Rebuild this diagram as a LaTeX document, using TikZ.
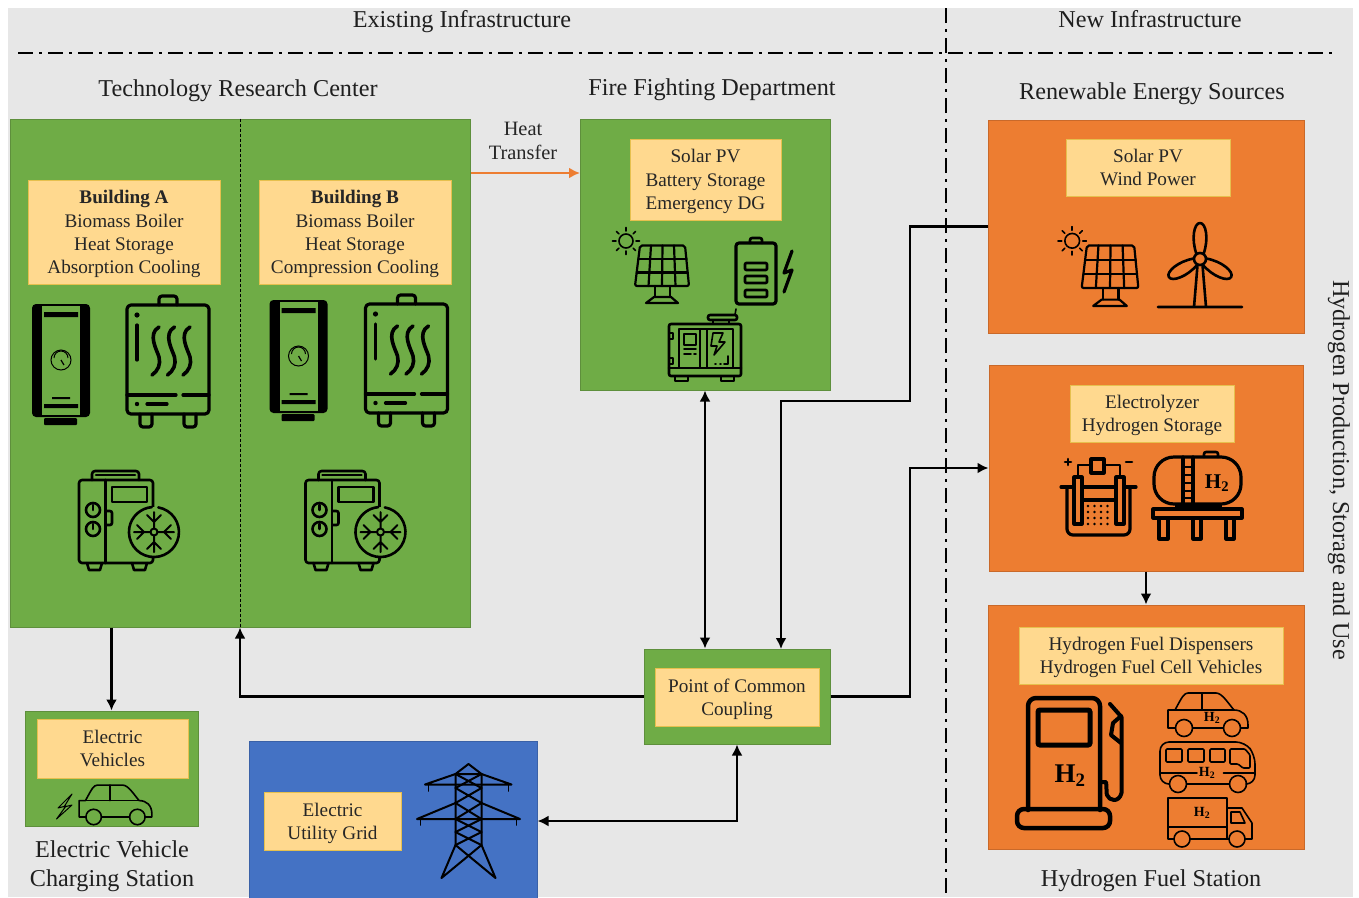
\documentclass[tikz,border=0pt]{standalone}
\usepackage{fontspec}
\setmainfont{Liberation Serif}
\usetikzlibrary{arrows.meta}
\definecolor{panelgray}{HTML}{E7E7E7}
\definecolor{sitegreen}{HTML}{6FAC46}
\definecolor{sitegreenline}{HTML}{5E8F3C}
\definecolor{siteorange}{HTML}{ED7D31}
\definecolor{siteorangeline}{HTML}{C9692A}
\definecolor{siteblue}{HTML}{4472C4}
\definecolor{labelfill}{HTML}{FFD98F}
\definecolor{labelline}{HTML}{E6C04E}
\newcommand{\Htwo}{H\textsubscript{2}}
\tikzset{
  icon/.style={line width=2.6pt, line join=round, line cap=round},
  thickicon/.style={line width=3.2pt, line join=round, line cap=round},
  thinicon/.style={line width=1.6pt, line join=round, line cap=round},
  pics/heater/.style={code={
    \fill[black, rounded corners=4pt] (-29,-56) rectangle (29,57);
    \fill[sitegreen] (-19,-54) rectangle (19,55);
    \fill[black] (-17,-48) rectangle (17,-43) (-9,37) rectangle (9,39) (-17,44) rectangle (17,48);
    \fill[black, rounded corners=1pt] (-17,58) rectangle (16,65);
    \draw[line width=1pt] (0,0) circle (10);
    \draw[line width=1pt] (-7,-2) arc[start angle=180, end angle=360, radius=7];
    \draw[line width=1.2pt] (0,0) -- (3,5);
  }},
  pics/boiler/.style={code={
    \draw[thickicon, rounded corners=4pt] (-41,-55) rectangle (41,54);
    \draw[thickicon, rounded corners=3pt] (-9,-55) -- (-9,-64) -- (9,-64) -- (9,-55);
    \draw[thickicon, rounded corners=3pt] (-28,54) -- (-28,67) -- (-16,67) -- (-16,54);
    \draw[thickicon, rounded corners=3pt] (16,54) -- (16,67) -- (28,67) -- (28,54);
    \draw[thickicon] (-41,35) -- (8,35) (15,35) -- (41,35);
    \draw[thickicon] (-31,-35) -- (-31,0) (-21,44) -- (-1,44);
    \fill (-31,-45) circle (2.6) (-31,44) circle (2.2);
    \foreach \dx in {0,15.5,31}
      \draw[thickicon, line width=3.6pt, xshift=\dx pt] (-9,-33) .. controls (-21,-26) and (-11,-10) .. (-9,-3) .. controls (-7,4) and (-10,11) .. (-16,15);
  }},
  pics/chiller/.style={code={
    \draw[icon, rounded corners=3pt] (-37,-45) rectangle (37,38);
    \draw[icon] (-10.5,-45) -- (-10.5,38);
    \draw[icon, rounded corners=3pt] (-24,-45) -- (-24,-54) -- (23,-54) -- (23,-45);
    \draw[icon] (-20,-50) -- (19,-50);
    \draw[icon] (-4,-38) rectangle (31,-23);
    \foreach \yc in {-15,4} {
      \draw[icon] (-23,\yc) circle (7);
      \draw[icon] (-23,\yc) -- (-23,\yc-5);
    }
    \draw[icon, rounded corners=2pt] (-10,-14) -- (-4,-14) -- (-4,0) -- (-10,0);
    \draw[icon] (-29,38) -- (-27,45) -- (-16,45) -- (-14,38);
    \draw[icon] (16,38) -- (18,45) -- (29,45) -- (31,38);
    \fill[sitegreen] (38,7) circle (25);
    \draw[icon] (42.3,-17.6) arc[start angle=-80, end angle=265, radius=25];
    \foreach \a in {0,90,180,270} {
      \begin{scope}[shift={(38,7)}, rotate=\a]
        \draw[icon, line width=2pt] (4,0) -- (20,0) (10,0) -- (17,-7) (10,0) -- (17,7);
      \end{scope}
    }
    \draw[icon, line width=2pt] (38,7) circle (3.5);
  }},
  pics/solar/.style={code={
    \draw[thinicon, line width=2.2pt, rounded corners=2pt] (-22,-19.5) -- (23,-19.5) -- (27,21) -- (-27,21) -- cycle;
    \draw[thinicon, line width=2.2pt] (-23.7,-6) -- (24.7,-6) (-25.3,7.5) -- (25.7,7.5);
    \draw[thinicon, line width=2.2pt] (-11,-19.5) -- (-13.5,21) (0.5,-19.5) -- (0,21) (12,-19.5) -- (13.5,21);
    \draw[thinicon, line width=2.2pt] (-7,21) -- (-7,32) (8,21) -- (8,32);
    \draw[thinicon, line width=2.2pt] (-8,32) -- (9,32) -- (16,38) -- (-16,38) -- cycle;
    \draw[thinicon] (-36,-24) circle (7);
    \foreach \a in {0,45,...,315}
      \draw[thinicon] ([shift={(\a:10)}]-36,-24) -- ([shift={(\a:13.5)}]-36,-24);
  }},
  pics/battery/.style={code={
    \draw[thickicon, rounded corners=3pt] (-20,-28) rectangle (20,33);
    \draw[icon, rounded corners=2pt] (-6,-28) -- (-6,-33) -- (6,-33) -- (6,-28);
    \foreach \yc in {-8,5,19}
      \draw[icon, rounded corners=1pt] (-11,\yc) rectangle (11,\yc+7);
    \draw[thickicon] (36,-20) -- (28,2) -- (36,-1) -- (28,21);
  }},
  pics/generator/.style={code={
    \draw[icon, rounded corners=2pt] (-36,-26) rectangle (36,26);
    \draw[icon] (-36,18) -- (36,18);
    \draw[thinicon] (-26,-21) rectangle (28,18) (-5,-21) -- (-5,18) (2,-21) -- (2,18);
    \draw[thinicon] (-21,-16) rectangle (-9,-5) (-21,-1) -- (-9,-1) (-21,4) -- (-14,4) (-11,4) -- (-9,4);
    \draw[thinicon] (8,-17) -- (18,-17) -- (14,-8) -- (20,-8) -- (9,5) -- (12,-4) -- (6,-4) -- cycle;
    \draw[thinicon] (10,14) -- (11,14) (15,14) -- (16,14) (19,14) -- (23,14) -- (23,6);
    \draw[thinicon] (-32,-17) rectangle (-36,-11) (-32,8) rectangle (-36,14);
    \draw[icon] (-30,26) rectangle (-17,31) (16,26) rectangle (29,31);
    \draw[icon, rounded corners=2pt] (3,-35) rectangle (32,-30);
    \draw[thinicon] (8,-30) -- (8,-26) (24,-30) -- (24,-26) (30,-35) -- (31,-41);
  }},
  pics/turbine/.style={code={
    \draw[icon] (-42,48) -- (42,48) (-6,48) -- (-2.5,6) (6,48) -- (2.5,6);
    \foreach \a in {0,120,240}
      \draw[icon, rotate=\a] (-3.5,-5) .. controls (-9,-20) and (-6,-36) .. (0,-36) .. controls (6,-36) and (9,-20) .. (3.5,-5);
    \draw[icon, fill=siteorange] (0,0) circle (6);
  }},
  pics/electrolyzer/.style={code={
    \draw[thickicon, rounded corners=6pt] (-31,-8) -- (-31,38) -- (32,38) -- (32,-8);
    \draw[thickicon] (-37,-10) -- (-24,-10) (-16,-10) -- (18,-10) (26,-10) -- (38,-10) (-16,3) -- (18,3);
    \draw[thickicon] (-24,-20) rectangle (-16,27) (18,-20) rectangle (26,27);
    \draw[icon] (-20,-20) -- (-20,-32) -- (-7,-32) (22,-20) -- (22,-32) -- (6,-32);
    \draw[thickicon, fill=siteorange] (-7,-38) rectangle (6,-24);
    \draw[icon] (-33,-35) -- (-27,-35) (-30,-38) -- (-30,-32) (28,-35) -- (34,-35);
    \foreach \xc in {-10,-3.5,3,9.5}
      \foreach \yc in {9,15,21,27}
        \fill (\xc,\yc) circle (1.3);
  }},
  pics/gastank/.style={code={
    \draw[thickicon, rounded corners=20pt] (-43,-38) rectangle (44,9);
    \draw[thickicon] (-14,-38) -- (-14,9) (-4,-38) -- (-4,9);
    \foreach \yc in {-28,-20,-12,-4,3}
      \draw[icon] (-14,\yc) -- (-4,\yc);
    \draw[icon, rounded corners=2pt] (7,-38) -- (7,-43) -- (21,-43) -- (21,-38);
    \draw[thickicon] (-20,10) rectangle (23,14) (-44,14) rectangle (45,23);
    \draw[thickicon] (-38,23) rectangle (-29,44) (-4,23) rectangle (4,44) (29,23) rectangle (37,44);
  }},
  pics/dispenser/.style={code={
    \draw[line width=4.5pt, line join=round, line cap=round, rounded corners=8pt] (-37,47) -- (-37,-65) -- (35,-65) -- (35,47);
    \draw[line width=5pt, rounded corners=2pt] (-27,-53) rectangle (25,-18);
    \draw[line width=4.5pt, rounded corners=7pt] (-48,46) rectangle (45,65);
    \draw[line width=4pt, line cap=round, line join=round] (35,19) -- (41,19) .. controls (42,25) and (41,30) .. (42,32) .. controls (44,38) and (54,40) .. (56.5,30) -- (56.5,-46) -- (45,-59);
    \draw[line width=4pt, line cap=round, line join=round] (56,-47) -- (48,-40) -- (46,-28) -- (56,-20);
  }},
  pics/car/.style={code={
    \draw[thinicon] (-32.5,17) -- (-40,17) -- (-40,-1) -- (-33,-1) .. controls (-26,-14) and (-24,-18) .. (-20,-18) -- (8,-18) .. controls (14,-18) and (20,-8) .. (26,-1) .. controls (34,-1) and (40,4) .. (40,14) -- (40,17) -- (32.5,17);
    \draw[thinicon] (-15.5,17) -- (15.5,17) (-33,-1) -- (26,-1) (-6,-18) -- (-6,-1);
    \draw[thinicon] (-24,17) circle (8.5) (24,17) circle (8.5);
  }},
  pics/bus/.style={code={
    \draw[thinicon, rounded corners=9pt] (-38,21) -- (-47,21) -- (-47,-21) -- (38,-21) -- (48,-8) -- (48,21) -- (40,21);
    \draw[thinicon] (-20.5,21) -- (22.5,21) (-47,10) -- (-10,10) (16.5,10) -- (48,10);
    \draw[thinicon, rounded corners=1pt] (-41,-14) rectangle (-25,-1) (-19,-14) rectangle (-3,-1) (3,-14) rectangle (18,-1);
    \draw[thinicon, rounded corners=1pt] (23,-14) -- (38,-14) -- (43,-8) -- (43,5) -- (36,5) -- (31,1) -- (23,1) -- cycle;
    \draw[thinicon] (-29,21) circle (8.5) (31,21) circle (8.5);
  }},
  pics/truck/.style={code={
    \draw[thinicon] (-36,18) -- (-42,18) -- (-42,-23) -- (17,-23) -- (17,18) (-42,6) -- (17,6) (-20,18) -- (19,18);
    \draw[thinicon] (17,-13) -- (32,-13) -- (42,2) -- (42,18) -- (35,18);
    \draw[thinicon] (21,-9) -- (30,-9) -- (35,2) -- (21,2) -- cycle;
    \draw[thinicon] (-28,18) circle (8) (27,18) circle (8);
  }},
  pics/pylon/.style={code={
    \draw[thinicon, line width=2pt] (0,-56) -- (-13,-46) -- (13,-46) -- cycle (-13,-46) -- (-13,25) (13,-46) -- (13,25);
    \draw[thinicon, line width=2pt] (-43.5,-35.5) -- (43,-35.5) (-43.5,-35.5) -- (-13,-46) (13,-46) -- (43,-35.5);
    \draw[thinicon, line width=2pt] (-51.5,-1) -- (51.5,-1) (-51.5,-1) -- (-13,-17) (13,-17) -- (51.5,-1);
    \draw[thinicon, line width=2pt] (-13,25) -- (-27,58) (13,25) -- (27,58) (-13,25) -- (27,58) (13,25) -- (-27,58);
    \foreach \ya/\yb in {-46/-32,-32/-17,-17/-1,-1/12,12/25}
      \draw[thinicon, line width=2pt] (-13,\ya) -- (13,\yb) (13,\ya) -- (-13,\yb);
    \draw[thinicon] (-40,-35.5) -- (-40,-29) (40,-35.5) -- (40,-29) (-48,-1) -- (-48,5) (48,-1) -- (48,5);
  }}
}
\begin{document}
\begin{tikzpicture}[x=1pt, y=-1pt, >={Latex[length=11pt,width=11pt]},
    site/.style={draw=sitegreenline, line width=1pt, fill=sitegreen, inner sep=0pt},
    hsite/.style={draw=siteorangeline, line width=1pt, fill=siteorange, inner sep=0pt},
    labelbox/.style={draw=labelline, line width=1pt, fill=labelfill, inner sep=0pt, align=center,
                     text=black!85, font=\fontsize{19.2}{23.2}\selectfont},
    heading/.style={align=center, text=black!88, font=\fontsize{24.2}{29}\selectfont},
    gas/.style={font=\bfseries\fontsize{14}{16}\selectfont, inner sep=0pt},
    flow/.style={line width=2.3pt},
    border/.style={line width=2pt, dash pattern=on 15pt off 6pt on 3pt off 6pt}]
	\useasboundingbox (0,0) rectangle (1359,897);
	\fill[panelgray] (8,8) rectangle (1353,897);
	\coordinate (borderleft) at (18,53);
	\coordinate (borderright) at (1335,53);
	\coordinate (bordertop) at (946,8);
	\coordinate (borderbottom) at (946,897);
	\draw[border] (borderleft) -- (borderright);
	\draw[border] (bordertop) -- (borderbottom);

	\node[heading] (existing) at (462,22) {Existing Infrastructure};
	\node[heading] (new) at (1150,19) {New Infrastructure};
	\node[heading] (trctitle) at (238,90.5) {Technology Research Center};
	\node[heading] (firetitle) at (712,89.5) {Fire Fighting Department};
	\node[heading] (renewtitle) at (1152,93.5) {Renewable Energy Sources};
	\node[heading] (evtitle) at (112,866) {Electric Vehicle\\Charging Station};
	\node[heading] (stationtitle) at (1151,880.5) {Hydrogen Fuel Station};
	\node[heading, rotate=-90] (sidetitle) at (1339,470) {Hydrogen Production, Storage and Use};
	\node[labelbox, draw=none, fill=none, font=\fontsize{20.4}{24}\selectfont] (heat) at (523,140.5) {Heat\\Transfer};

	\node[site, minimum width=460pt, minimum height=508pt] (trc) at (240,373) {};
	\node[site, minimum width=250pt, minimum height=271pt] (fire) at (705,254.5) {};
	\node[hsite, minimum width=316pt, minimum height=213pt] (renew) at (1146,226.5) {};
	\node[hsite, minimum width=314pt, minimum height=206pt] (electro) at (1146,468) {};
	\node[hsite, minimum width=316pt, minimum height=244pt] (fuel) at (1146,727) {};
	\node[site, minimum width=186pt, minimum height=95pt] (pcc) at (737,696.5) {};
	\node[site, minimum width=173pt, minimum height=115pt] (ev) at (111.5,768.5) {};
	\node[draw=siteblue!85!black, line width=1pt, fill=siteblue, minimum width=288pt, minimum height=160pt] (grid) at (393,821) {};

	\node[labelbox, text depth=-1.8pt, minimum width=192pt, minimum height=104pt] (builda) at (124,232) {\textbf{Building A}\\Biomass Boiler\\Heat Storage\\Absorption Cooling};
	\node[labelbox, text depth=-1.8pt, minimum width=192pt, minimum height=104pt] (buildb) at (355,232) {\textbf{Building B}\\Biomass Boiler\\Heat Storage\\Compression Cooling};
	\node[labelbox, text depth=-6.8pt, minimum width=151pt, minimum height=81pt] (firelabel) at (705.5,179.5) {Solar PV\\Battery Storage\\Emergency DG};
	\node[labelbox, text depth=-8pt, minimum width=164pt, minimum height=57pt] (renewlabel) at (1148,167.5) {Solar PV\\Wind Power};
	\node[labelbox, text depth=-6.8pt, minimum width=164pt, minimum height=57pt] (electrolabel) at (1152,413.5) {Electrolyzer\\Hydrogen Storage};
	\node[labelbox, text depth=-8pt, minimum width=264pt, minimum height=57pt] (fuellabel) at (1151,655.5) {Hydrogen Fuel Dispensers\\Hydrogen Fuel Cell Vehicles};
	\node[labelbox, text depth=-3pt, minimum width=164pt, minimum height=58pt] (pcclabel) at (737,697) {Point of Common\\Coupling};
	\node[labelbox, text depth=-7pt, minimum width=151pt, minimum height=59pt] (evlabel) at (112.5,748.5) {Electric\\Vehicles};
	\node[labelbox, text depth=-3.5pt, minimum width=137pt, minimum height=58pt] (gridlabel) at (332.5,821) {Electric\\Utility Grid};

	\draw[line width=0.8pt, dash pattern=on 3pt off 2pt] (trc.north) -- (trc.south);

	\pic at (61,360) {heater};
	\pic at (298.5,356) {heater};
	\pic at (168,360) {boiler};
	\pic at (406.5,359) {boiler};
	\pic at (116,525) {chiller};
	\pic at (342.5,525) {chiller};
	\pic at (662,265) {solar};
	\pic at (756,271) {battery};
	\pic at (705,350) {generator};
	\pic[scale=1.05] at (1110,266) {solar};
	\pic at (1200,259) {turbine};
	\pic at (1098,497) {electrolyzer};
	\pic at (1197,495) {gastank};
	\pic at (1065,763) {dispenser};
	\pic at (1208,711) {car};
	\pic at (1207,763) {bus};
	\pic at (1210,821) {truck};
	\pic[scale=0.91] at (115.5,801.5) {car};
	\pic at (468.5,820) {pylon};
	\draw[line width=1pt, line join=round] (72,794) -- (58,808) -- (66,806) -- (56.5,819) -- (72,805) -- (64,807) -- cycle;

	\node[gas, font=\bfseries\fontsize{21}{24}\selectfont] (tankgas) at (1217,483) {\Htwo};
	\node[gas, font=\bfseries\fontsize{27}{30}\selectfont] (pumpgas) at (1070,776) {\Htwo};
	\node[gas] (cargas) at (1212,718) {\Htwo};
	\node[gas] (busgas) at (1207,773) {\Htwo};
	\node[gas] (truckgas) at (1202,813) {\Htwo};

	\coordinate (heatin) at (580,173);
	\coordinate (bendtop) at (910,401);
	\coordinate (pccdrop) at (781,649);
	\coordinate (bendlow) at (910,468);
	\draw[->, flow, draw=siteorange] (trc.east |- heatin) -- (heatin);
	\draw[->, flow] (trc.south -| ev.north) -- (ev.north);
	\draw[->, flow] (pcc.west) -| (trc.south);
	\draw[<->, flow] (fire.south) -- (fire.south |- pcc.north);
	\draw[->, flow] (renew.west) -| (bendtop) -| (pccdrop);
	\draw[->, flow] (pcc.east) -| (bendlow) -- (electro.west);
	\draw[->, flow] (electro.south) -- (fuel.north);
	\draw[<->, flow] (grid.east) -| (pcc.south);
\end{tikzpicture}
\end{document}
